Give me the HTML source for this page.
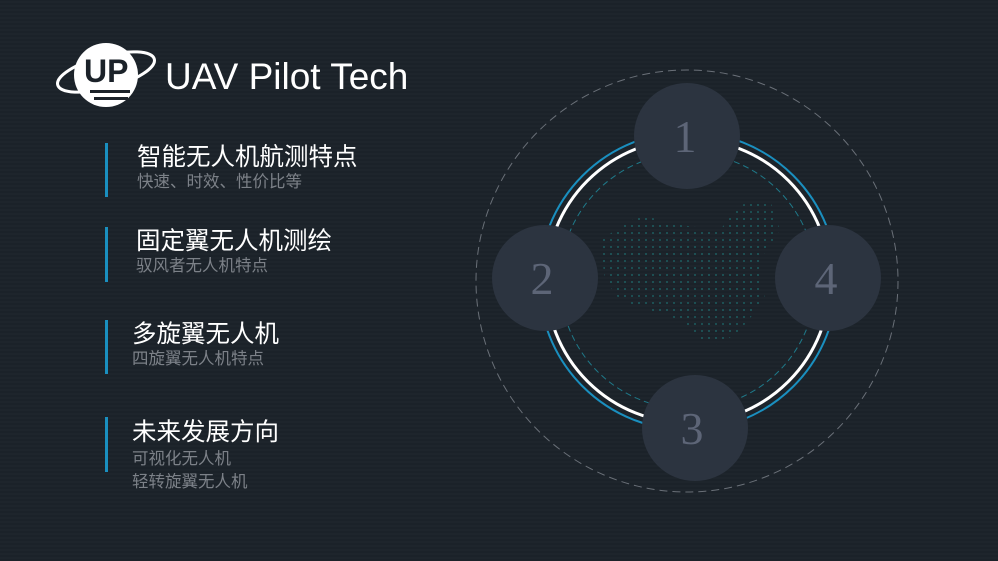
<!DOCTYPE html>
<html><head><meta charset="utf-8"><style>
body{margin:0;width:998px;height:561px;overflow:hidden;background:#1b2229;
background-image:repeating-linear-gradient(0deg,#1b2229 0 2px,#1e252c 2px 4px);
font-family:"Liberation Sans","Noto Sans CJK SC",sans-serif;position:relative}
.bar{position:absolute;width:3px;background:#1a8fbf}
.t{position:absolute;color:#fff;font-size:24.5px;line-height:28px;white-space:nowrap}
.s{position:absolute;color:#7c8188;font-size:16.5px;line-height:21px;white-space:nowrap}
</style></head><body>
<svg width="998" height="561" style="position:absolute;left:0;top:0">
<defs>
<pattern id="dp" width="7" height="7" patternUnits="userSpaceOnUse"><circle cx="2" cy="2" r="0.9" fill="#1f9c9a"/></pattern>
</defs>
<circle cx="106" cy="75" r="32" fill="#fff"/>
<ellipse cx="106" cy="72" rx="50" ry="16" fill="none" stroke="#fff" stroke-width="3" transform="rotate(-15 106 72)"/>
<text x="84" y="82" font-family="Liberation Sans" font-weight="bold" font-size="32" fill="#1b2229">UP</text>
<rect x="90" y="90" width="40" height="3" fill="#1b2229"/><rect x="94" y="97" width="34" height="3" fill="#1b2229"/>
<text x="165" y="89" font-family="Liberation Sans" font-size="37" fill="#fff">UAV Pilot Tech</text>
<circle cx="687" cy="281" r="211" fill="none" stroke="#6a7078" stroke-width="1" stroke-dasharray="8 5"/>
<circle cx="688" cy="281" r="149" fill="none" stroke="#1a8fbf" stroke-width="2"/>
<circle cx="688" cy="281" r="142" fill="none" stroke="#fff" stroke-width="3"/>
<circle cx="688" cy="281" r="128" fill="none" stroke="#1f7a8a" stroke-width="1" stroke-dasharray="6 4"/>
<path d="M600 240 L640 215 L680 225 L720 230 L740 205 L770 200 L780 230 L760 260 L765 300 L740 330 L720 345 L700 340 L680 320 L650 310 L620 300 L605 280 Z" fill="url(#dp)" opacity="0.6"/>
<g fill="#2c3440">
<circle cx="687" cy="136" r="53"/><circle cx="545" cy="278" r="53"/>
<circle cx="828" cy="278" r="53"/><circle cx="695" cy="428" r="53"/>
</g>
<g font-family="Liberation Serif" font-size="46" fill="#5d6577" text-anchor="middle">
<text x="685" y="152">1</text><text x="542" y="294">2</text>
<text x="826" y="294">4</text><text x="692" y="444">3</text>
</g>
</svg>
<div class="bar" style="left:105px;top:143px;height:54px"></div>
<div class="bar" style="left:105px;top:227px;height:55px"></div>
<div class="bar" style="left:105px;top:320px;height:54px"></div>
<div class="bar" style="left:105px;top:417px;height:55px"></div>
<div class="t" style="left:137px;top:144px">智能无人机航测特点</div>
<div class="s" style="left:137px;top:172px">快速、时效、性价比等</div>
<div class="t" style="left:136px;top:228px">固定翼无人机测绘</div>
<div class="s" style="left:136px;top:256px">驭风者无人机特点</div>
<div class="t" style="left:132px;top:321px">多旋翼无人机</div>
<div class="s" style="left:132px;top:349px">四旋翼无人机特点</div>
<div class="t" style="left:132px;top:419px">未来发展方向</div>
<div class="s" style="left:132px;top:449px">可视化无人机</div>
<div class="s" style="left:132px;top:472px">轻转旋翼无人机</div>
</body></html>
